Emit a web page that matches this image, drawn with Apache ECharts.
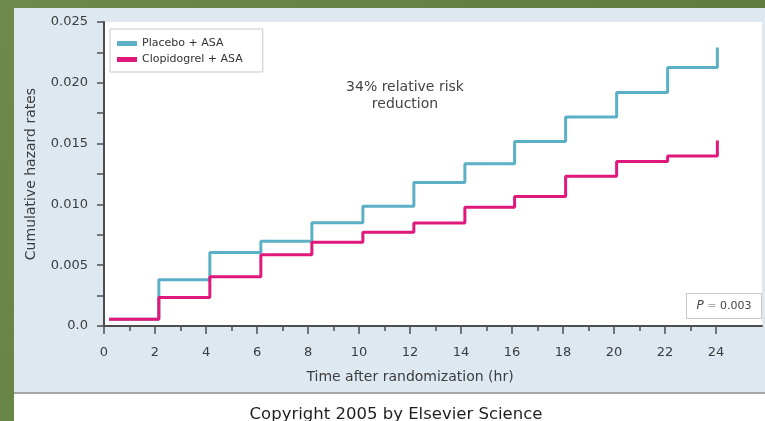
<!DOCTYPE html>
<html>
<head>
<meta charset="utf-8">
<script src="https://cdn.jsdelivr.net/npm/echarts@6/dist/echarts.min.js"></script>
<style>
  html, body { margin: 0; padding: 0; background: #66823f; }
  #chart { width: 765px; height: 421px; }
</style>
</head>
<body>
<div id="chart"></div>
<script>
// Hours after randomization at which each step of the curves occurs
const stepHours = [0.2, 2.15, 4.15, 6.15, 8.15, 10.15, 12.15, 14.15, 16.1, 18.1, 20.1, 22.1, 24.05];
// Cumulative hazard rate reached at each step
const placeboAsa = [0.00055, 0.0038, 0.00605, 0.00696, 0.0085, 0.00985, 0.0118, 0.01334, 0.01518, 0.01719, 0.0192, 0.02126, 0.0229];
const clopidogrelAsa = [0.00055, 0.00234, 0.00404, 0.00586, 0.00688, 0.0077, 0.00847, 0.00976, 0.01064, 0.01232, 0.01353, 0.01397, 0.01526];
// Axis tick positions
const xMajorTicks = [0, 2, 4, 6, 8, 10, 12, 14, 16, 18, 20, 22, 24];
const xMinorTicks = [1, 3, 5, 7, 9, 11, 13, 15, 17, 19, 21, 23];
const seriesNames = ['Placebo + ASA', 'Clopidogrel + ASA'];

const pairs = vals => stepHours.map((t, i) => [t, vals[i]]);

const labelFont = 'DejaVu Sans, Verdana, sans-serif';
const axisColor = '#4d4d4d';
const textColor = '#3c3c3c';

const chart = echarts.init(document.getElementById('chart'));
chart.setOption({
  backgroundColor: {
    type: 'linear', x: 0, y: 0, x2: 1, y2: 1,
    colorStops: [{ offset: 0, color: '#6e8a4a' }, { offset: 1, color: '#5c7838' }]
  },
  animation: false,
  graphic: [
    { type: 'rect', z: -5, shape: { x: 14, y: 8, width: 751, height: 385 }, style: { fill: '#dde8f1' } },
    { type: 'rect', z: -5, shape: { x: 14, y: 392, width: 751, height: 2 }, style: { fill: '#a3a7aa' } },
    { type: 'rect', z: -5, shape: { x: 14, y: 394, width: 751, height: 27 }, style: { fill: '#ffffff' } },
    {
      type: 'text', z: 100, x: 405, y: 79,
      style: {
        text: '34% relative risk\nreduction', align: 'center',
        font: '14px ' + labelFont, fill: '#444', lineHeight: 17
      }
    },
    {
      type: 'group', z: 100, left: 686, top: 293,
      children: [
        { type: 'rect', shape: { x: 0, y: 0, width: 75, height: 25 }, style: { fill: '#fff', stroke: '#c8c8c8', lineWidth: 1 } },
        {
          type: 'text', x: 37.5, y: 12.5,
          style: {
            text: '{i|P} {e|=} 0.003', align: 'center', verticalAlign: 'middle',
            font: '11px ' + labelFont, fill: '#444',
            rich: {
              i: { fontStyle: 'italic', fontSize: 12, fill: '#444', fontFamily: labelFont },
              e: { fill: '#aaa', fontSize: 11, fontFamily: labelFont }
            }
          }
        }
      ]
    },
    {
      type: 'text', z: 100, x: 396, y: 406,
      style: { text: 'Copyright 2005 by Elsevier Science', align: 'center', font: '16.5px DejaVu Sans, Verdana, sans-serif', fill: '#1e1e1e' }
    }
  ],
  legend: {
    orient: 'vertical', left: 110, top: 29,
    backgroundColor: '#fff', borderColor: '#c9c9c9', borderWidth: 1,
    padding: [9, 20, 7, 7], itemGap: 5,
    itemWidth: 20, itemHeight: 5,
    textStyle: { fontFamily: labelFont, fontSize: 11, color: '#333' },
    data: seriesNames.map(n => ({ name: n, icon: 'rect' }))
  },
  grid: {
    left: 104, top: 22, right: 3, bottom: 95,
    show: true, backgroundColor: '#ffffff', borderWidth: 0
  },
  xAxis: [
    {
      type: 'value', min: 0, max: 25.8,
      name: 'Time after randomization (hr)', nameLocation: 'middle', nameGap: 44,
      nameTextStyle: { fontFamily: labelFont, fontSize: 14, color: textColor, padding: [0, 46, 0, 0] },
      axisLine: { show: true, onZero: false, lineStyle: { color: axisColor, width: 2 } },
      axisTick: { show: true, customValues: xMajorTicks, length: 8, lineStyle: { color: axisColor, width: 1.5 } },
      axisLabel: { customValues: xMajorTicks, margin: 20, fontFamily: labelFont, fontSize: 13, color: textColor },
      splitLine: { show: false }
    },
    {
      type: 'value', min: 0, max: 25.8, position: 'bottom',
      axisLine: { show: false },
      axisTick: { show: true, customValues: xMinorTicks, length: 5, lineStyle: { color: axisColor, width: 1.5 } },
      axisLabel: { show: false },
      splitLine: { show: false }
    }
  ],
  yAxis: {
    type: 'value', min: 0, max: 0.025, interval: 0.005,
    name: 'Cumulative hazard rates', nameLocation: 'middle', nameGap: 66,
    nameTextStyle: { fontFamily: labelFont, fontSize: 14, color: textColor },
    axisLine: { show: true, lineStyle: { color: axisColor, width: 2 } },
    axisTick: { show: true, length: 7, lineStyle: { color: axisColor, width: 1.5 } },
    minorTick: { show: true, splitNumber: 2, length: 7, lineStyle: { color: axisColor, width: 1.5 } },
    axisLabel: {
      margin: 16, fontFamily: labelFont, fontSize: 13, color: textColor,
      formatter: v => (v === 0 ? '0.0' : v.toFixed(3))
    },
    splitLine: { show: false }
  },
  series: [
    {
      name: seriesNames[0], type: 'line', step: 'end', symbol: 'none',
      data: pairs(placeboAsa),
      itemStyle: { color: '#5cb0c6' },
      lineStyle: { color: '#5cb0c6', width: 3 }
    },
    {
      name: seriesNames[1], type: 'line', step: 'end', symbol: 'none',
      data: pairs(clopidogrelAsa),
      itemStyle: { color: '#e0187b' },
      lineStyle: { color: '#e0187b', width: 3 }
    }
  ]
});
</script>
</body>
</html>
